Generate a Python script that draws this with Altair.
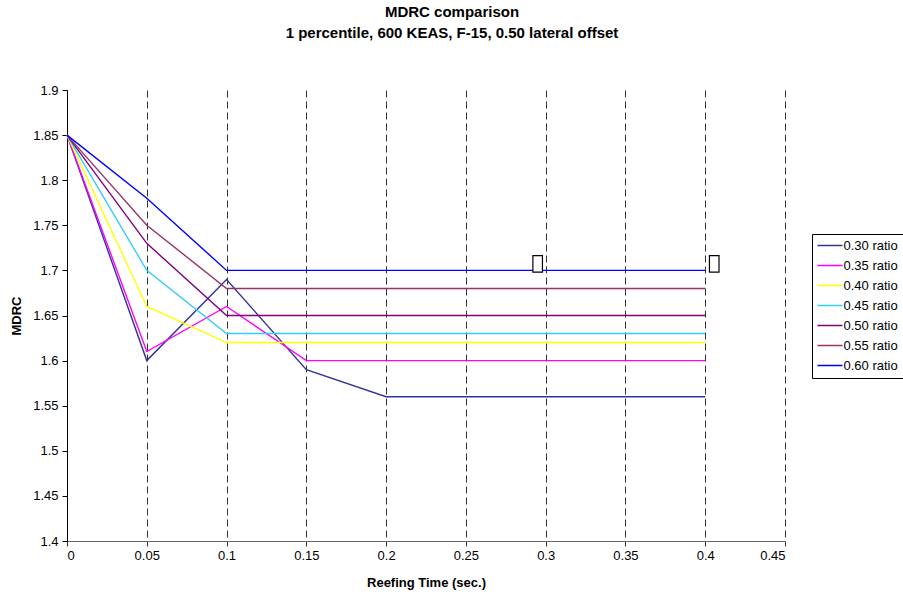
import altair as alt
import pandas as pd

# ---- data ----
times = [0, 0.05, 0.1, 0.15, 0.2, 0.25, 0.3, 0.35, 0.4]
series_names = ["0.30 ratio", "0.35 ratio", "0.40 ratio", "0.45 ratio",
                "0.50 ratio", "0.55 ratio", "0.60 ratio"]
r030 = [1.85, 1.60, 1.69, 1.59, 1.56, 1.56, 1.56, 1.56, 1.56]
r035 = [1.85, 1.61, 1.66, 1.60, 1.60, 1.60, 1.60, 1.60, 1.60]
r040 = [1.85, 1.66, 1.62, 1.62, 1.62, 1.62, 1.62, 1.62, 1.62]
r045 = [1.85, 1.70, 1.63, 1.63, 1.63, 1.63, 1.63, 1.63, 1.63]
r050 = [1.85, 1.73, 1.65, 1.65, 1.65, 1.65, 1.65, 1.65, 1.65]
r055 = [1.85, 1.75, 1.68, 1.68, 1.68, 1.68, 1.68, 1.68, 1.68]
r060 = [1.85, 1.78, 1.70, 1.70, 1.70, 1.70, 1.70, 1.70, 1.70]
series_colors = ["#333399", "#FF00FF", "#FFFF00", "#33CCFF",
                 "#800080", "#993366", "#0000FF"]
x_ticks = [0, 0.05, 0.1, 0.15, 0.2, 0.25, 0.3, 0.35, 0.4, 0.45]
y_ticks = [1.4, 1.45, 1.5, 1.55, 1.6, 1.65, 1.7, 1.75, 1.8, 1.85, 1.9]
# empty data-label boxes on the 0.60 series
label_left = {"t": [0.3], "v": [1.70]}
label_right = {"t": [0.4], "v": [1.70]}

all_series = [r030, r035, r040, r045, r050, r055, r060]
rows = []
for name, vals in zip(series_names, all_series):
    for t, v in zip(times, vals):
        rows.append({"t": t, "v": v, "series": name})
df = pd.DataFrame(rows)

FONT = "Liberation Sans"

x_enc = alt.X("t:Q", scale=alt.Scale(domain=[0, 0.45], nice=False),
              axis=alt.Axis(values=x_ticks, format="~g", title="Reefing Time (sec.)",
                            grid=True, gridDash=[7, 4], gridColor="#333333",
                            gridWidth=1, domainColor="#666666", tickColor="#333333",
                            tickSize=5, labelPadding=3, titlePadding=14))
y_enc = alt.Y("v:Q", scale=alt.Scale(domain=[1.4, 1.9], nice=False, zero=False),
              axis=alt.Axis(values=y_ticks, format="~g", title="MDRC", grid=False,
                            domainColor="#000000", tickColor="#000000", tickSize=5,
                            labelPadding=4, titlePadding=9))

lines = alt.Chart(df).mark_line(strokeWidth=1.4, clip=False).encode(
    x=x_enc,
    y=y_enc,
    color=alt.Color("series:N",
                    scale=alt.Scale(domain=series_names, range=series_colors),
                    legend=alt.Legend(title=None, orient="none", legendX=745, legendY=144,
                                      symbolType="M-2.5,0L2.5,0", symbolSize=100,
                                      symbolStrokeWidth=1.5, symbolOffset=6.5,
                                      labelOffset=7, rowPadding=6, padding=5,
                                      strokeColor="#000000", fillColor="#ffffff",
                                      labelFontSize=13, labelFont=FONT,
                                      labelColor="#000000")),
    order=alt.Order("t:Q"),
)

box_shape = "M-0.58,-1L0.58,-1L0.58,1L-0.58,1Z"
box_l = alt.Chart(pd.DataFrame(label_left)).mark_point(
    shape=box_shape, size=272, filled=True, fill="#ffffff", stroke="#000000",
    strokeWidth=1.2, opacity=1, xOffset=-8, yOffset=-6.5).encode(x="t:Q", y="v:Q")
box_r = alt.Chart(pd.DataFrame(label_right)).mark_point(
    shape=box_shape, size=272, filled=True, fill="#ffffff", stroke="#000000",
    strokeWidth=1.2, opacity=1, xOffset=9, yOffset=-6.5).encode(x="t:Q", y="v:Q")

chart = alt.layer(lines, box_l, box_r).properties(
    width=718, height=451,
    autosize=alt.AutoSizeParams(type="none"),
    padding={"left": 67, "top": 90, "right": 118, "bottom": 55},
    title=alt.TitleParams(
        text=["MDRC comparison", "1 percentile, 600 KEAS, F-15, 0.50 lateral offset"],
        anchor="middle", frame="group", dx=26, offset=43, fontSize=15,
        font=FONT, fontWeight="bold", lineHeight=21, color="#000000"),
).configure(
    background="#ffffff",
).configure_view(stroke=None).configure_axis(
    labelFont=FONT, labelFontSize=13, labelColor="#000000",
    titleFont=FONT, titleFontSize=13, titleFontWeight="bold", titleColor="#000000",
)

chart.save("out.html", embed_options={"renderer": "svg", "actions": False})
